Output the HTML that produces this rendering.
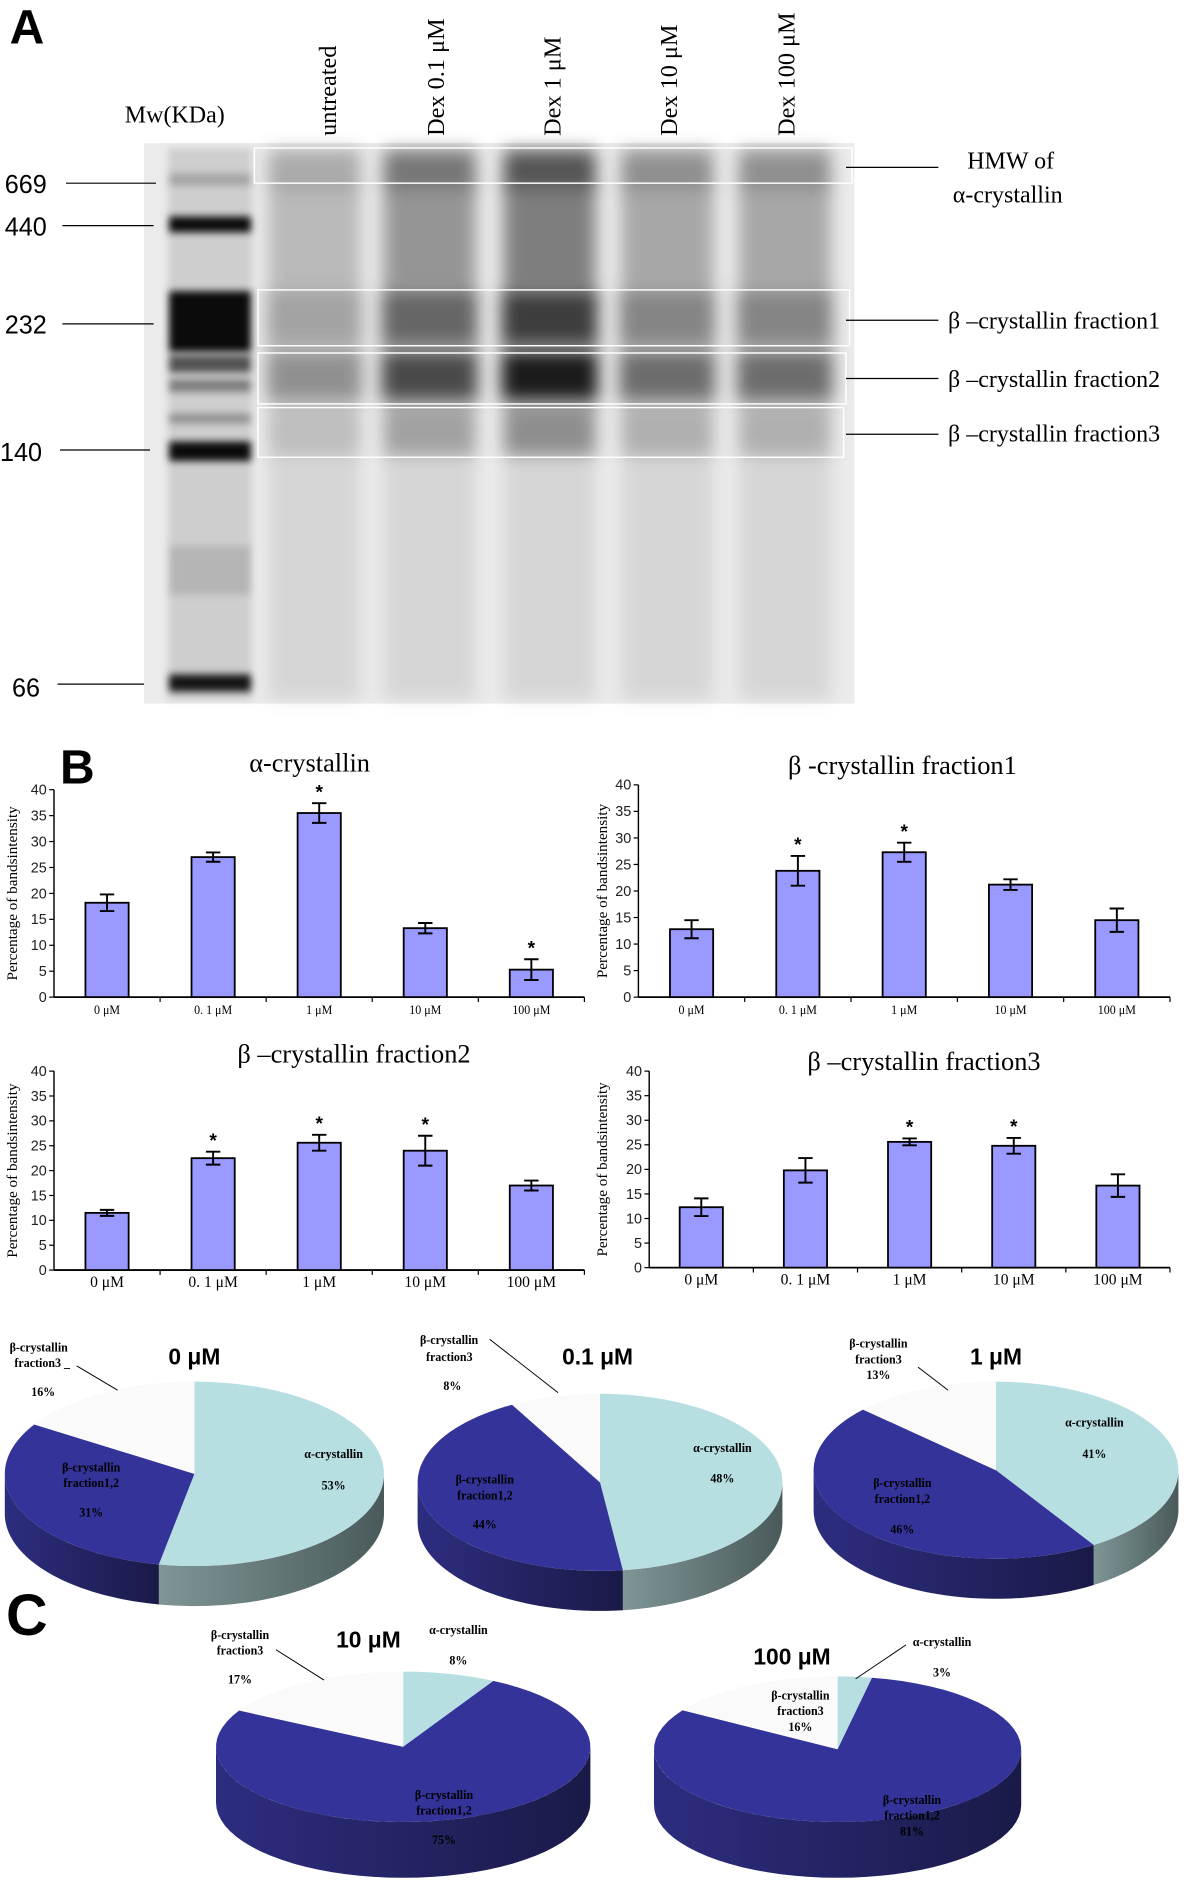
<!DOCTYPE html>
<html><head><meta charset="utf-8"><style>
html,body{margin:0;padding:0;background:#fff}
svg{display:block}
.sf{font-family:"Liberation Serif",serif}
.ss{font-family:"Liberation Sans",sans-serif}
</style></head><body>
<svg id="root" width="1194" height="1896" viewBox="0 0 995 1563" preserveAspectRatio="none">
<defs>
<filter id="bl" filterUnits="userSpaceOnUse" x="0" y="0" width="995" height="700"><feGaussianBlur stdDeviation="7"/></filter>
<filter id="bl2" filterUnits="userSpaceOnUse" x="0" y="0" width="995" height="700"><feGaussianBlur stdDeviation="3"/></filter>
<linearGradient id="gA" x1="0" x2="1"><stop offset="0" stop-color="#7f9696"/><stop offset="1" stop-color="#4a5a5a"/></linearGradient>
<linearGradient id="gB" x1="0" x2="1"><stop offset="0" stop-color="#2d2d80"/><stop offset="1" stop-color="#1a1a48"/></linearGradient>
<linearGradient id="gC" x1="0" x2="1"><stop offset="0" stop-color="#dddddd"/><stop offset="1" stop-color="#bbbbbb"/></linearGradient>
</defs>

<g>
<text x="8" y="36" class="ss" font-size="40" font-weight="bold">A</text>
<text x="104" y="101" class="sf" font-size="20">Mw(KDa)</text>
<g class="sf" font-size="20">
<text transform="translate(280,112) rotate(-90)">untreated</text>
<text transform="translate(370,112) rotate(-90)">Dex 0.1 μM</text>
<text transform="translate(467,112) rotate(-90)">Dex 1 μM</text>
<text transform="translate(564,112) rotate(-90)">Dex 10 μM</text>
<text transform="translate(662,112) rotate(-90)">Dex 100 μM</text>
</g>
<rect x="120" y="118" width="592" height="462" fill="#ebebeb"/>
<g id="gel"></g>
<g fill="none" stroke="#fff" stroke-width="1.2">
<rect x="212" y="122" width="498" height="29"/>
<rect x="215" y="239" width="493" height="46"/>
<rect x="215" y="291" width="490" height="42"/>
<rect x="215" y="336" width="488" height="41"/>
</g>
<g class="ss" font-size="21">
<text x="4" y="159">669</text><line x1="55" y1="151" x2="130" y2="151" stroke="#000"/>
<text x="4" y="194">440</text><line x1="52" y1="186" x2="128" y2="186" stroke="#000"/>
<text x="4" y="275">232</text><line x1="52" y1="267" x2="128" y2="267" stroke="#000"/>
<text x="0" y="380">140</text><line x1="50" y1="371" x2="125" y2="371" stroke="#000"/>
<text x="10" y="574">66</text><line x1="48" y1="564" x2="120" y2="564" stroke="#000"/>
</g>
<g class="sf" font-size="20">
<line x1="705" y1="138" x2="782" y2="138" stroke="#000"/>
<text x="806" y="139">HMW of</text><text x="794" y="167">α-crystallin</text>
<line x1="705" y1="264" x2="782" y2="264" stroke="#000"/>
<text x="790" y="271">β –crystallin fraction1</text>
<line x1="705" y1="312" x2="782" y2="312" stroke="#000"/>
<text x="790" y="319">β –crystallin fraction2</text>
<line x1="705" y1="358" x2="782" y2="358" stroke="#000"/>
<text x="790" y="364">β –crystallin fraction3</text>
</g>
</g>

<text x="50" y="646" class="ss" font-size="40" font-weight="bold">B</text>
<g id="charts"></g>
<text x="5" y="1348" class="ss" font-size="48" font-weight="bold">C</text>
<g id="pies"></g>
</svg>
<script>
const NS='http://www.w3.org/2000/svg';
function mk(tag,attrs,parent){const e=document.createElementNS(NS,tag);for(const k in attrs)e.setAttribute(k,attrs[k]);if(parent)parent.appendChild(e);return e;}

// ---------- Gel ----------
const gel=document.getElementById('gel');
mk('rect',{x:140,y:122,width:70,height:455,fill:'#000','fill-opacity':0.12,filter:'url(#bl2)'},gel);
[[148,10,0.2],[185,13,0.95],[265,50,0.95],[300,14,0.6],[318,10,0.4],[345,8,0.3],[372,16,0.95],[470,40,0.12],[563,14,0.9]].forEach(b=>{
  mk('rect',{x:141,y:b[0]-b[1]/2,width:68,height:b[1],fill:'#000','fill-opacity':b[2],filter:'url(#bl2)'},gel);
});
const laneX=[262,358,458,556,654];
const laneI=[0.25,0.55,0.75,0.4,0.4];
laneX.forEach((cx,i)=>{
  const s=laneI[i];
  mk('rect',{x:cx-38,y:122,width:76,height:455,fill:'#000','fill-opacity':0.09,filter:'url(#bl)'},gel);
  mk('rect',{x:cx-38,y:124,width:76,height:30,fill:'#000','fill-opacity':s*0.8,filter:'url(#bl)'},gel);
  mk('rect',{x:cx-38,y:150,width:76,height:90,fill:'#000','fill-opacity':s*0.55,filter:'url(#bl)'},gel);
  mk('rect',{x:cx-40,y:240,width:80,height:45,fill:'#000','fill-opacity':Math.min(1,s*0.95),filter:'url(#bl)'},gel);
  mk('rect',{x:cx-40,y:290,width:80,height:40,fill:'#000','fill-opacity':Math.min(1,s*1.1+0.05),filter:'url(#bl)'},gel);
  mk('rect',{x:cx-38,y:335,width:76,height:40,fill:'#000','fill-opacity':s*0.45,filter:'url(#bl)'},gel);
});

// ---------- Bar charts ----------
const categories=['0  μM','0. 1  μM','1  μM','10  μM','100  μM'];
const yTicks=[0,5,10,15,20,25,30,35,40];
const alphaVals=[18.2,27.0,35.5,13.3,5.3];
const alphaErr=[1.6,0.9,1.9,1.0,2.0];
const alphaSig=[false,false,true,false,true];
const f1Vals=[12.8,23.8,27.3,21.2,14.5];
const f1Err=[1.7,2.8,1.8,1.0,2.2];
const f1Sig=[false,true,true,false,false];
const f2Vals=[11.5,22.5,25.6,24.0,17.0];
const f2Err=[0.6,1.3,1.6,3.0,1.0];
const f2Sig=[false,true,true,true,false];
const f3Vals=[12.3,19.8,25.6,24.8,16.7];
const f3Err=[1.8,2.5,0.7,1.6,2.3];
const f3Sig=[false,false,true,true,false];

const chartDefs=[
 {name:'alpha-crystallin-chart',title:'α-crystallin',tx:258,ty:636,x0:45,x1:487,y0:822,y1:651,vals:alphaVals,err:alphaErr,sig:alphaSig,lab:14},
 {name:'fraction1-chart',title:'β -crystallin fraction1',tx:752,ty:638,x0:532,x1:975,y0:822,y1:647,vals:f1Vals,err:f1Err,sig:f1Sig,lab:506},
 {name:'fraction2-chart',title:'β –crystallin  fraction2',tx:295,ty:876,x0:45,x1:487,y0:1047,y1:883,vals:f2Vals,err:f2Err,sig:f2Sig,lab:14},
 {name:'fraction3-chart',title:'β –crystallin  fraction3',tx:770,ty:882,x0:541,x1:975,y0:1045,y1:883,vals:f3Vals,err:f3Err,sig:f3Sig,lab:506}
];
const charts=document.getElementById('charts');
chartDefs.forEach(c=>{
  const g=mk('g',{},charts);
  
  
  const yS=v=>c.y0+(c.y1-c.y0)*v/40;
  const band=(c.x1-c.x0)/categories.length;
  const xS=i=>c.x0+band*(i+0.5);
  const t=mk('text',{x:c.tx,y:c.ty,'text-anchor':'middle','font-size':22,class:'sf'},g);
  t.textContent=c.title;
  
  
  const yl=mk('text',{transform:`translate(${c.lab},${(c.y0+c.y1)/2}) rotate(-90)`,'text-anchor':'middle','font-size':12.5,class:'sf'},g);
  yl.textContent='Percentage of  bandsintensity';
  
  
  mk('line',{x1:c.x0,y1:c.y0,x2:c.x1,y2:c.y0,stroke:'#000','stroke-width':1.5},g);
  mk('line',{x1:c.x0,y1:c.y0,x2:c.x0,y2:c.y1,stroke:'#000','stroke-width':1.2},g);
  yTicks.forEach(v=>{
    mk('line',{x1:c.x0-4,y1:yS(v),x2:c.x0,y2:yS(v),stroke:'#000'},g);
    const tt=mk('text',{x:c.x0-6,y:yS(v)+4,'text-anchor':'end','font-size':12,class:'ss',fill:'#222'},g);
    tt.textContent=v;
    
    
  });
  for(let i=1;i<=categories.length;i++) mk('line',{x1:c.x0+band*i,y1:c.y0,x2:c.x0+band*i,y2:c.y0+4,stroke:'#000'},g);
  c.vals.forEach((v,i)=>{
    const bw=36,x=xS(i);
    const r=mk('rect',{x:x-bw/2,y:yS(v),width:bw,height:c.y0-yS(v),fill:'#9999ff',stroke:'#000','stroke-width':1.5},g);
    
    
    const e=c.err[i];
    mk('path',{d:`M${x},${yS(v+e)}V${yS(v-e)}M${x-6},${yS(v+e)}H${x+6}M${x-6},${yS(v-e)}H${x+6}`,stroke:'#000','stroke-width':1.6,fill:'none'},g);
    if(c.sig[i]){const s=mk('text',{x:x,y:yS(v+e)-4,'text-anchor':'middle','font-size':16,'font-weight':'bold',class:'ss'},g);s.textContent='*';
      }
    const xl=mk('text',{x:x,y:c.y0+14,'text-anchor':'middle','font-size':c.y0>900?13:10,class:'sf'},g);
    xl.textContent=categories[i];
    
    
  });
});

// ---------- Pies ----------
const pieTitles=['0 μM','0.1 μM','1 μM','10 μM','100 μM'];
const pieAlpha=[53,48,41,8,3];
const pieF12=[31,44,46,75,81];
const pieF3=[16,8,13,17,16];
const pieGeom=[[162,1215,158,76,33],[500,1222,152,73,33],[830,1212,152,73,33],[336,1440,156,62,46],[698,1442,153,60,46]];
const pieTitlePos=[[162,1125],[498,1125],[830,1125],[307,1358],[660,1372]];
const colorsTop=['#b7dfe2','#333399','#fafafa'];
const colorsSide=['url(#gA)','url(#gB)','url(#gC)'];
const pies=document.getElementById('pies');
pieTitles.forEach((title,p)=>{
  const [cx,cy,rx,ry,d]=pieGeom[p];
  const g=mk('g',{},pies);
  
  
  const pt=(a,dy)=>[cx+rx*Math.sin(a),cy-ry*Math.cos(a)+(dy||0)];
  const vals=[pieAlpha[p],pieF12[p],pieF3[p]];
  let a=0;const sl=vals.map(v=>{const s=a;a+=v/100*2*Math.PI;return [s,a];});
  sl.forEach((s,i)=>{
    const a0=Math.max(s[0],Math.PI/2),a1=Math.min(s[1],3*Math.PI/2);
    if(a1<=a0)return;
    const N=40;let dd='';
    for(let k=0;k<=N;k++){const q=pt(a0+(a1-a0)*k/N);dd+=(k?'L':'M')+q[0]+','+q[1];}
    for(let k=N;k>=0;k--){const q=pt(a0+(a1-a0)*k/N,d);dd+='L'+q[0]+','+q[1];}
    mk('path',{d:dd+'Z',fill:colorsSide[i],stroke:'none'},g);
  });
  sl.forEach((s,i)=>{
    const N=60;let dd=`M${cx},${cy}`;
    for(let k=0;k<=N;k++){const q=pt(s[0]+(s[1]-s[0])*k/N);dd+='L'+q[0]+','+q[1];}
    const sp=mk('path',{d:dd+'Z',fill:colorsTop[i],stroke:'none'},g);
    
    
  });
  const t=mk('text',{x:pieTitlePos[p][0],y:pieTitlePos[p][1],'text-anchor':'middle','font-size':19,'font-weight':'bold',class:'ss'},g);
  t.textContent=title;
  
  
});
const L=[
 [8,1114,'β-crystallin','s'],[12,1127,'fraction3 _','s'],[36,1151,'16%','m'],
 [278,1202,'α-crystallin','m'],[278,1228,'53%','m'],[76,1213,'β-crystallin','m'],[76,1226,'fraction1,2','m'],[76,1250,'31%','m'],
 [350,1108,'β-crystallin','s'],[355,1122,'fraction3','s'],[377,1146,'8%','m'],
 [602,1197,'α-crystallin','m'],[602,1222,'48%','m'],[404,1223,'β-crystallin','m'],[404,1236,'fraction1,2','m'],[404,1260,'44%','m'],
 [732,1111,'β-crystallin','m'],[732,1124,'fraction3','m'],[732,1137,'13%','m'],
 [912,1176,'α-crystallin','m'],[912,1202,'41%','m'],[752,1226,'β-crystallin','m'],[752,1239,'fraction1,2','m'],[752,1264,'46%','m'],
 [200,1351,'β-crystallin','m'],[200,1364,'fraction3','m'],[200,1388,'17%','m'],[382,1347,'α-crystallin','m'],[382,1372,'8%','m'],
 [370,1483,'β-crystallin','m'],[370,1496,'fraction1,2','m'],[370,1520,'75%','m'],
 [785,1357,'α-crystallin','m'],[785,1382,'3%','m'],[667,1401,'β-crystallin','m'],[667,1414,'fraction3','m'],[667,1427,'16%','m'],
 [760,1487,'β-crystallin','m'],[760,1500,'fraction1,2','m'],[760,1513,'81%','m']
];
const lg=mk('g',{class:'sf','font-size':10,'font-weight':'bold'},pies);


L.forEach(l=>{const t=mk('text',{x:l[0],y:l[1],'text-anchor':l[3]==='s'?'start':'middle'},lg);t.textContent=l[2];});
[[64,1126,98,1146],[408,1104,465,1148],[765,1127,790,1146],[230,1360,270,1385],[755,1356,713,1384]].forEach(q=>{
  mk('line',{x1:q[0],y1:q[1],x2:q[2],y2:q[3],stroke:'#000','stroke-width':0.8},lg);
});
</script>
</body></html>
